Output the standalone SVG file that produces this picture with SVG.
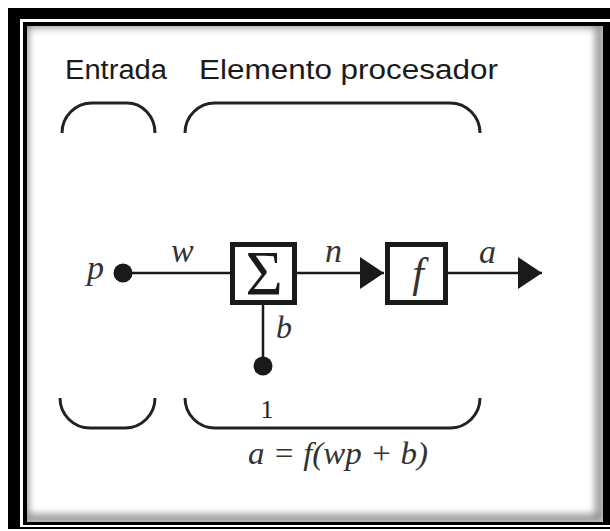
<svg xmlns="http://www.w3.org/2000/svg" width="610" height="531" viewBox="0 0 610 531">
<defs>
<style>
.lbl{font-family:"Liberation Sans",Arial,sans-serif;font-size:27px;fill:#1a1a1a}
.math{font-family:"Liberation Serif","Times New Roman",serif;font-style:italic;fill:#333}
.br{fill:none;stroke:#222;stroke-width:3}
.ln{stroke:#1a1a1a;stroke-width:2.5;fill:none}
.box{fill:#fff;stroke:#1a1a1a;stroke-width:5}
.dot{fill:#1a1a1a}
</style>
<clipPath id="inner"><rect x="27" y="26" width="576" height="496"/></clipPath>
<filter id="blur" x="-10%" y="-10%" width="120%" height="120%"><feGaussianBlur stdDeviation="4"/></filter>
<marker id="arr" viewBox="0 0 24 32" refX="24" refY="16" markerWidth="24" markerHeight="32" markerUnits="userSpaceOnUse" orient="auto">
<path d="M0,0 L24,16 L0,32 Z" fill="#1a1a1a"/>
</marker>
</defs>
<rect width="610" height="531" fill="#fff"/>
<g id="frame">
<rect x="8" y="8" width="610" height="521" fill="#000"/>
<rect x="20" y="19" width="600" height="508" fill="#fff"/>
<rect x="23" y="22" width="600" height="503" fill="#000"/>
<rect x="27" y="26" width="576" height="496" fill="#fff"/>
<g clip-path="url(#inner)">
<rect x="24" y="23" width="576" height="496" fill="none" stroke="#000" stroke-width="8" filter="url(#blur)" opacity="0.5"/>
</g>
</g>
<g id="labels">
<text class="lbl" x="65" y="79" textLength="102" lengthAdjust="spacingAndGlyphs">Entrada</text>
<text class="lbl" x="199" y="79" textLength="299" lengthAdjust="spacingAndGlyphs">Elemento procesador</text>
</g>
<g id="brackets">
<path class="br" d="M62,133 A30,30 0 0 1 92,103 L127,103 A28,30 0 0 1 155,133"/>
<path class="br" d="M185,133 A30,30 0 0 1 215,103 L450,103 A30,30 0 0 1 480,133"/>
<path class="br" d="M60,398 A30,30 0 0 0 90,428 L125,428 A30,30 0 0 0 155,398"/>
<path class="br" d="M185,398 A30,30 0 0 0 215,428 L450,428 A30,30 0 0 0 480,398"/>
</g>
<g id="connectors">
<line class="ln" x1="123" y1="273" x2="231" y2="273"/>
<line class="ln" x1="263" y1="305" x2="263" y2="366"/>
<line class="ln" x1="297" y1="273" x2="384" y2="273" marker-end="url(#arr)"/>
<line class="ln" x1="448" y1="273" x2="542" y2="273" marker-end="url(#arr)"/>
</g>
<g id="input-p">
<circle class="dot" cx="123" cy="273" r="9.5"/>
<text class="math" x="87" y="279" font-size="34">p</text>
</g>
<g id="weight-w"><text class="math" x="171" y="262" font-size="34">w</text></g>
<g id="sum">
<rect class="box" x="232.5" y="244.5" width="62" height="58"/>
<text x="264" y="295" font-family="Liberation Serif,serif" font-size="64" fill="#1a1a1a" text-anchor="middle">Σ</text>
</g>
<g id="bias">
<circle class="dot" cx="263" cy="366" r="9.5"/>
<text class="math" x="276" y="338" font-size="32">b</text>
<text x="267" y="418" font-family="Liberation Serif,serif" font-size="26" fill="#222" text-anchor="middle">1</text>
</g>
<g id="net-n"><text class="math" x="325" y="262" font-size="34">n</text></g>
<g id="transfer-f">
<rect class="box" x="387.5" y="244.5" width="58" height="58"/>
<text class="math" x="418" y="287" font-size="42" text-anchor="middle">f</text>
</g>
<g id="output-a"><text class="math" x="479" y="263" font-size="34">a</text></g>
<g id="equation">
<text class="math" x="248" y="464" font-size="31" textLength="180" lengthAdjust="spacingAndGlyphs">a = f(wp + b)</text>
</g>
</svg>
